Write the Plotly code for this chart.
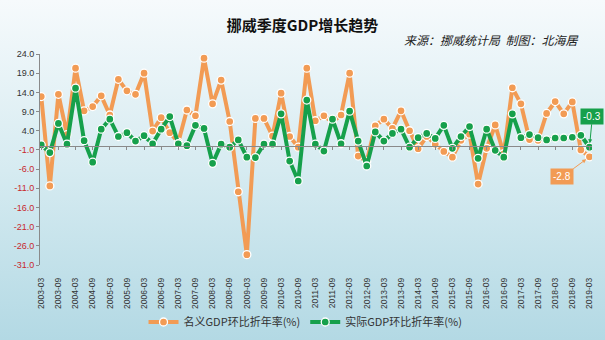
import plotly.graph_objects as go

# ---------------- data ----------------
years = list(range(2003, 2020))
months = ["03", "06", "09", "12"]
quarters = [f"{y}-{m}" for y in years for m in months][:65]

nominal = [12.9, -10.4, 13.5, 3.0, 20.3, 9.2, 10.3, 13.1, 8.1, 17.4,
           14.4, 13.5, 19.0, 3.9, 7.4, 3.5, 1.0, 9.4, 7.9, 22.9,
           11.0, 17.2, 6.4, -11.9, -28.3, 7.2, 7.2, 2.6, 13.8, 2.5,
           -0.3, 20.3, 6.6, 7.9, 6.3, 8.1, 19.0, -2.6, -4.0, 5.3,
           7.0, 4.6, 9.2, 4.0, -0.7, 2.5, 0.5, -1.4, -2.9, 1.5,
           3.1, -9.9, -0.6, 5.5, -2.0, 15.2, 11.0, 1.7, 1.5, 8.5,
           11.6, 8.4, 11.5, -1.0, -2.8]

real = [0.3, -1.7, 5.9, 0.5, 15.1, 1.4, -4.2, 4.4, 7.0, 2.5,
        3.5, 1.3, 2.7, 0.6, 4.4, 7.7, 0.6, 0.1, 5.4, 4.6,
        -4.5, 0.5, -0.3, 1.6, -2.9, -3.0, 0.5, 0.5, 8.4, -3.9,
        -9.1, 12.0, 0.5, -1.3, 7.0, 0.6, 9.1, 1.3, -5.2, 3.7,
        1.3, 3.3, 4.4, -0.3, 2.2, 3.3, 2.0, 5.4, -0.6, 2.5,
        5.1, -3.2, 4.4, -1.1, -2.9, 8.4, 2.2, 3.0, 2.2, 1.6,
        2.1, 2.1, 2.3, 2.8, -0.3]

y_tick_vals = [24.0, 19.0, 14.0, 9.0, 4.0, -1.0, -6.0, -11.0, -16.0, -21.0, -26.0, -31.0]
x_tick_labels = quarters[::2]

name_nominal = "名义GDP环比折年率(%)"
name_real = "实际GDP环比折年率(%)"
title_text = "挪威季度GDP增长趋势"
source_text = "来源：挪威统计局  制图：北海居"

# ---------------- style ----------------
ORANGE = "#f29b54"
GREEN = "#16a04b"
AXIS = "#8a8a8a"
W, H = 605, 340
ML, MR, MT, MB = 40, 13, 54, 75
PW, PH = W - ML - MR, H - MT - MB
Y_MIN, Y_MAX = min(y_tick_vals), max(y_tick_vals)
X_RANGE = [-0.15, len(quarters) - 1 + 0.3]

ticktext = [
    (f'<span style="color:#c8282d">{v:.1f}</span>' if v < 0 else f"{v:.1f}")
    for v in y_tick_vals
]

svg = (
    "data:image/svg+xml;utf8,"
    "<svg xmlns='http://www.w3.org/2000/svg' width='100' height='100' preserveAspectRatio='none'>"
    "<defs><linearGradient id='g' x1='0' y1='0' x2='0' y2='1'>"
    "<stop offset='0' stop-color='%23f6fafc'/>"
    "<stop offset='0.5' stop-color='%23d6ebf1'/>"
    "<stop offset='1' stop-color='%23b3d9e4'/>"
    "</linearGradient></defs>"
    "<rect width='100' height='100' fill='url(%23g)'/></svg>"
)

fig = go.Figure()

fig.add_trace(go.Scatter(
    x=quarters, y=nominal, name=name_nominal, mode="lines+markers",
    line=dict(color=ORANGE, width=4),
    marker=dict(size=8, color=ORANGE, line=dict(color="white", width=1.3)),
))
fig.add_trace(go.Scatter(
    x=quarters, y=real, name=name_real, mode="lines+markers",
    line=dict(color=GREEN, width=4),
    marker=dict(size=8, color=GREEN, line=dict(color="white", width=1.3)),
))
# empty trace to materialise the zero-crossing axis
fig.add_trace(go.Scatter(x=[], y=[], xaxis="x2", showlegend=False, hoverinfo="skip"))

fig.update_layout(
    width=W, height=H,
    margin=dict(l=ML, r=MR, t=MT, b=MB, pad=0, autoexpand=False),
    paper_bgcolor="#d6ebf1",
    plot_bgcolor="rgba(0,0,0,0)",
    font=dict(family="Liberation Sans, Noto Sans CJK SC, sans-serif", color="#333333"),
    images=[dict(
        source=svg, xref="paper", yref="paper",
        x=-ML / PW, y=(PH + MT) / PH, sizex=W / PW, sizey=H / PH,
        xanchor="left", yanchor="top", sizing="stretch", layer="below",
    )],
    title=dict(
        text=f"<b>{title_text}</b>", xref="container", yref="container",
        x=0.5, y=1 - 26 / H, xanchor="center", yanchor="middle",
        font=dict(family="Noto Sans CJK SC", size=15, color="#111111"),
    ),
    showlegend=True,
    legend=dict(
        orientation="h", xref="container", yref="container",
        x=0.505, y=1 - 322 / H, xanchor="center", yanchor="middle",
        font=dict(family="Noto Sans CJK SC", size=11, color="#333333"),
        bgcolor="rgba(0,0,0,0)", itemwidth=30, tracegroupgap=0,
    ),
    xaxis=dict(
        type="category", range=X_RANGE, automargin=False,
        tickvals=x_tick_labels, ticktext=x_tick_labels, tickangle=-90,
        ticks="", showline=False, showgrid=False, zeroline=False,
        tickfont=dict(size=8.5, color="#333333"), ticklabelstandoff=10,
    ),
    xaxis2=dict(
        overlaying="x", anchor="free", automargin=False,
        position=(0 - Y_MIN) / (Y_MAX - Y_MIN),
        type="linear", range=X_RANGE,
        tickvals=list(range(0, len(quarters), 2)),
        showticklabels=False, ticks="outside", ticklen=3, tickcolor=AXIS,
        showline=True, linecolor=AXIS, linewidth=1,
        showgrid=False, zeroline=False,
    ),
    yaxis=dict(
        range=[Y_MIN, Y_MAX], tickvals=y_tick_vals, ticktext=ticktext,
        automargin=False,
        showline=True, linecolor=AXIS, linewidth=1,
        ticks="outside", ticklen=3, tickcolor=AXIS,
        showgrid=False, zeroline=False,
        tickfont=dict(size=9, color="#333333"),
    ),
    annotations=[
        dict(
            text=source_text, xref="paper", yref="paper",
            x=(580 - ML) / PW, y=(PH + MT - 39) / PH,
            xanchor="right", yanchor="middle", showarrow=False,
            font=dict(family="Noto Sans CJK SC", size=12, color="#222222", style="italic"),
        ),
        dict(
            x=quarters[-1], y=real[-1], text=f"{real[-1]:.1f}",
            showarrow=True, ax=3, ay=-31, arrowcolor=GREEN, arrowwidth=1,
            arrowhead=2, arrowsize=0.8, standoff=4,
            bgcolor=GREEN, borderpad=2,
            font=dict(size=10, color="white"),
        ),
        dict(
            x=quarters[-1], y=nominal[-1], text=f"{nominal[-1]:.1f}",
            showarrow=True, ax=-27, ay=20, arrowcolor=ORANGE, arrowwidth=1,
            arrowhead=2, arrowsize=0.8, standoff=4,
            bgcolor=ORANGE, borderpad=2,
            font=dict(size=10, color="white"),
        ),
    ],
)

fig.write_html("out.html")
